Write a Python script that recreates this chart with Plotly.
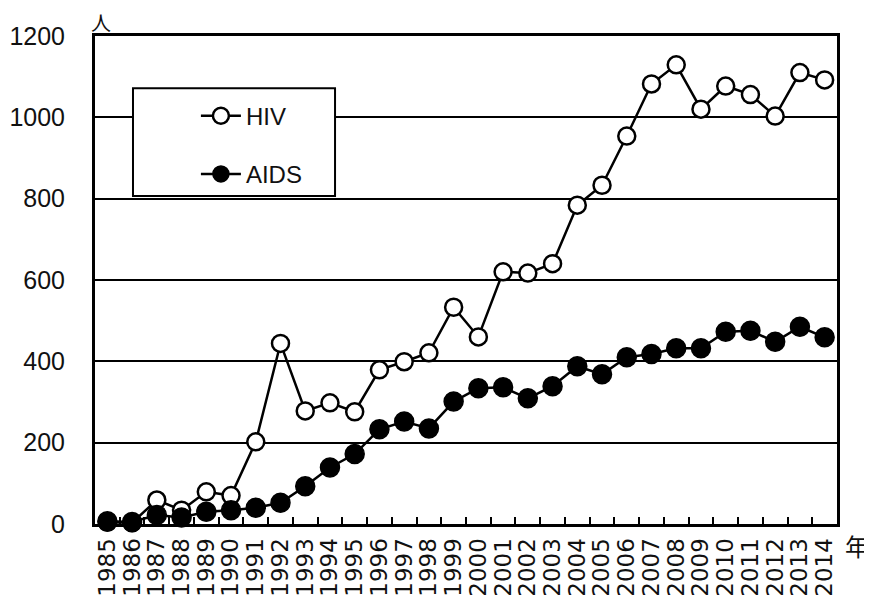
import plotly.graph_objects as go

years = [str(y) for y in range(1985, 2015)]
hiv = [4, 3, 59, 34, 79, 70, 202, 444, 278, 298, 276, 379, 399, 421, 533, 460,
       620, 617, 640, 784, 833, 954, 1082, 1129, 1020, 1077, 1056, 1003, 1110, 1092]
aids = [7, 5, 22, 16, 30, 34, 40, 52, 93, 139, 172, 233, 252, 235, 301, 334,
        336, 309, 339, 388, 368, 410, 418, 432, 432, 473, 475, 448, 485, 459]
y_ticks = [0, 200, 400, 600, 800, 1000, 1200]

FONT = "Liberation Sans, Arial, sans-serif"

fig = go.Figure()
fig.add_trace(go.Scatter(
    x=years, y=hiv, name="HIV", mode="lines+markers", legendgroup="a",
    line=dict(color="black", width=2.5),
    marker=dict(symbol="circle", size=17, color="white", line=dict(color="black", width=2.5)),
    cliponaxis=False))
fig.add_trace(go.Scatter(
    x=years, y=aids, name="AIDS", mode="lines+markers", legendgroup="b",
    line=dict(color="black", width=2.5),
    marker=dict(symbol="circle", size=19, color="black", line=dict(color="black", width=1.5)),
    cliponaxis=False))

fig.update_layout(
    width=864, height=592,
    margin=dict(l=87, r=35, t=28, b=76, autoexpand=False),
    paper_bgcolor="white", plot_bgcolor="white",
    font=dict(family=FONT, color="#111"),
    showlegend=True,
    legend=dict(x=0.136, y=0.882, xanchor="left", yanchor="top",
                bgcolor="rgba(0,0,0,0)", borderwidth=0,
                font=dict(size=24, family=FONT, color="#111"),
                tracegroupgap=24, itemwidth=40),
    shapes=[dict(type="rect", xref="paper", yref="paper",
                 x0=0.0512, x1=0.3235, y0=0.672, y1=0.893,
                 line=dict(color="black", width=2), fillcolor="white", layer="above")],
    annotations=[
        dict(text="人", xref="paper", yref="paper", x=0.008, y=1.027, xanchor="center", yanchor="middle",
             showarrow=False, font=dict(size=20, family="Noto Sans CJK JP", color="#111")),
        dict(text="年", xref="paper", yref="paper", x=1.027, y=-0.005, xanchor="center", yanchor="top",
             showarrow=False, font=dict(size=24, family="Noto Sans CJK JP", color="#111")),
    ],
)

fig.update_xaxes(
    type="category", range=[-0.5, 29.5], automargin=False,
    tickmode="array", tickvals=years, ticktext=years,
    showline=True, linecolor="black", linewidth=3, mirror=True,
    showgrid=False, ticks="inside", tickson="boundaries", ticklen=7, tickwidth=2, tickcolor="black",
    tickangle=-90, tickfont=dict(size=23, family="DejaVu Sans, sans-serif", color="#111"),
    ticklabelstandoff=2)
fig.update_yaxes(
    range=[0, 1200], tickvals=y_ticks, ticktext=[str(v) for v in y_ticks], automargin=False,
    showline=True, linecolor="black", linewidth=3, mirror=True,
    showgrid=True, gridcolor="black", gridwidth=2, zeroline=False,
    ticks="", tickfont=dict(size=25, family=FONT, color="#111"), ticklabelstandoff=22)

fig.write_html("out.html")
